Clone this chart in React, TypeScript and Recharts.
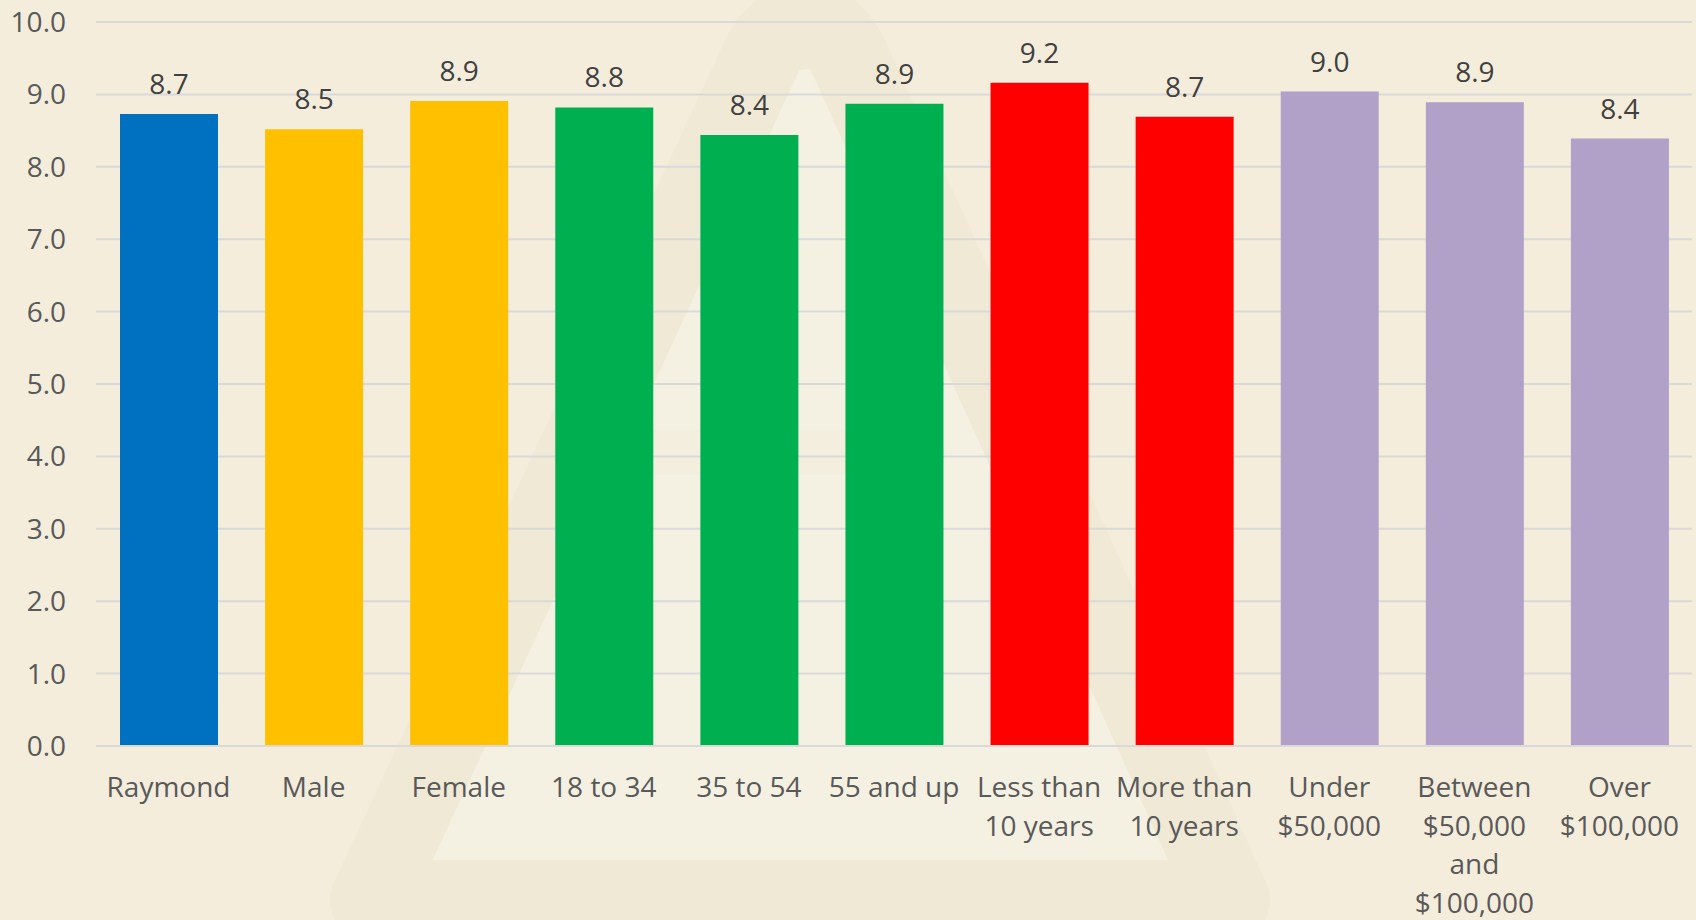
import React from "react"
import { BarChart, Bar, XAxis, YAxis, CartesianGrid, LabelList, Cell } from "recharts"

const categories = [
    "Raymond",
    "Male",
    "Female",
    "18 to 34",
    "35 to 54",
    "55 and up",
    "Less than\n10 years",
    "More than\n10 years",
    "Under\n$50,000",
    "Between\n$50,000\nand\n$100,000",
    "Over\n$100,000",
]
const scores = [8.73, 8.52, 8.91, 8.82, 8.44, 8.87, 9.16, 8.69, 9.04, 8.89, 8.39]
const barColors = [
    "#0070C0", "#FFC000", "#FFC000", "#00B050", "#00B050", "#00B050",
    "#FF0000", "#FF0000", "#B1A0C7", "#B1A0C7", "#B1A0C7",
]
const yTicks = [0, 1, 2, 3, 4, 5, 6, 7, 8, 9, 10]

const data = categories.map((name, i) => ({ name, score: scores[i] }))

const FONT = "'Open Sans', 'Noto Sans', sans-serif"

// multi-line category labels under the axis
const CategoryTick = ({ x, y, payload }: any) => {
    const lines = String(payload.value).split("\n")
    return (
        <text x={x} y={y} textAnchor="middle" fill="#595959" fontSize={28} fontFamily={FONT}>
            {lines.map((line, i) => (
                <tspan key={i} x={x} dy={i === 0 ? 49 : 38.5}>{line}</tspan>
            ))}
        </text>
    )
}

// faint logo watermark behind the plot
const Watermark = () => (
    <svg width={1696} height={920} style={{ position: "absolute", left: 0, top: 0 }}>
        <rect width={1696} height={920} fill="#F4EDDC" />
        <path
            d="M 800 30 Q 830 15 850 60 L 1230 900 L 370 900 L 760 60 Q 775 25 800 30 Z"
            fill="#F5F1E2"
            stroke="#F0E9D5"
            strokeWidth={80}
            strokeLinejoin="round"
        />
        <rect x={600} y={430} width={330} height={45} fill="#F2ECDA" opacity={0.6} />
    </svg>
)

export default function App() {
    return (
        <div style={{ position: "relative", width: 1696, height: 920 }}>
            <style>{`body{margin:0}`}</style>
            <Watermark />
            <div style={{ position: "absolute", left: 0, top: 0 }}>
                <BarChart
                    width={1696}
                    height={920}
                    data={data}
                    margin={{ top: 22, right: 4, left: 0, bottom: 0 }}
                    barSize={98}
                >
                    <CartesianGrid stroke="#D9D9D9" strokeWidth={2} vertical={false} />
                    <XAxis
                        dataKey="name"
                        height={174}
                        axisLine={{ stroke: "#D9D9D9", strokeWidth: 2 }}
                        tickLine={false}
                        tickSize={0}
                        interval={0}
                        tick={<CategoryTick />}
                    />
                    <YAxis
                        width={96}
                        domain={[0, 10]}
                        ticks={yTicks}
                        axisLine={false}
                        tickLine={false}
                        tickSize={0}
                        tickMargin={30}
                        tickFormatter={(v: number) => v.toFixed(1)}
                        tick={{ fill: "#595959", fontSize: 28, fontFamily: FONT }}
                    />
                    <Bar dataKey="score" isAnimationActive={false}>
                        {data.map((_, i) => (
                            <Cell key={i} fill={barColors[i]} />
                        ))}
                        <LabelList
                            dataKey="score"
                            position="top"
                            offset={20}
                            fill="#404040"
                            fontSize={28}
                            fontFamily={FONT}
                            formatter={(v: any) => Number(v).toFixed(1)}
                        />
                    </Bar>
                </BarChart>
            </div>
        </div>
    )
}
